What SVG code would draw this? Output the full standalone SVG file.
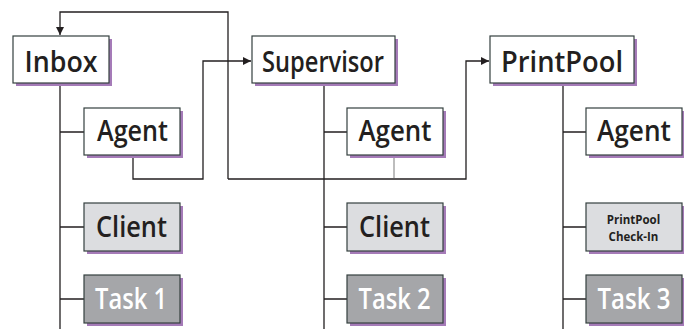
<svg xmlns="http://www.w3.org/2000/svg" width="684" height="329" viewBox="0 0 684 329">
<style>
.sh{fill:#a57bb8}
.bx{stroke:#34403f;stroke-width:1.2}
.w{fill:#ffffff}
.l{fill:#dcdde0}
.d{fill:#a5a6a9}
.t{font-family:"Open Sans","Liberation Sans",sans-serif;font-weight:600;font-size:28px;fill:#231f20;text-anchor:middle}
.tw{fill:#ffffff}
.s{font-size:11.5px;font-weight:700}
.c{fill:none;stroke:#231f20;stroke-width:1.3}
.g{fill:none;stroke:#9a9a9a;stroke-width:1.3}
</style>
<defs>
<marker id="ah" viewBox="0 0 8 8" refX="8" refY="4" markerWidth="8" markerHeight="8" markerUnits="userSpaceOnUse" orient="auto">
<path d="M0,0 L8,4 L0,8 z" fill="#231f20"/>
</marker>
</defs>
<g id="connectors">
<path class="c" d="M60,83 V329 M60,132 H84 M60,227 H84 M60,299 H84"/>
<path class="c" d="M324,83 V329 M324,132 H347 M324,227 H347 M324,299 H347"/>
<path class="c" d="M563,83 V329 M563,132 H586 M563,227 H586 M563,299 H586"/>
<path class="c" d="M133,155 V179 H203 V61 H251" marker-end="url(#ah)"/>
<path class="c" d="M228,179 V12 H60 V35" marker-end="url(#ah)"/>
<path class="c" d="M228,179 H466 V61 H489" marker-end="url(#ah)"/>
<path class="g" d="M394,155 V178"/>
</g>
<g id="inbox"><rect class="sh" x="16" y="39" width="96" height="47"/><rect class="bx w" x="13" y="36" width="96" height="47"/><text class="t" x="61" y="72" textLength="73" lengthAdjust="spacingAndGlyphs">Inbox</text></g>
<g id="inbox-agent"><rect class="sh" x="87" y="111" width="96" height="47"/><rect class="bx w" x="84" y="108" width="96" height="47"/><text class="t" x="132.5" y="141" textLength="71" lengthAdjust="spacingAndGlyphs">Agent</text></g>
<g id="inbox-client"><rect class="sh" x="87" y="206" width="96" height="48"/><rect class="bx l" x="84" y="203" width="96" height="48"/><text class="t" x="131.5" y="237" textLength="71" lengthAdjust="spacingAndGlyphs">Client</text></g>
<g id="task1"><rect class="sh" x="87" y="278" width="96" height="48"/><rect class="bx d" x="84" y="275" width="96" height="48"/><text class="t tw" x="131" y="309" textLength="72" lengthAdjust="spacingAndGlyphs">Task 1</text></g>
<g id="supervisor"><rect class="sh" x="255" y="39" width="143" height="47"/><rect class="bx w" x="252" y="36" width="143" height="47"/><text class="t" x="323" y="72" textLength="122" lengthAdjust="spacingAndGlyphs">Supervisor</text></g>
<g id="supervisor-agent"><rect class="sh" x="350" y="111" width="96" height="47"/><rect class="bx w" x="347" y="108" width="96" height="47"/><text class="t" x="395" y="141" textLength="73" lengthAdjust="spacingAndGlyphs">Agent</text></g>
<g id="supervisor-client"><rect class="sh" x="350" y="206" width="96" height="48"/><rect class="bx l" x="347" y="203" width="96" height="48"/><text class="t" x="394.5" y="237" textLength="71" lengthAdjust="spacingAndGlyphs">Client</text></g>
<g id="task2"><rect class="sh" x="350" y="278" width="96" height="48"/><rect class="bx d" x="347" y="275" width="96" height="48"/><text class="t tw" x="394.5" y="309" textLength="72" lengthAdjust="spacingAndGlyphs">Task 2</text></g>
<g id="printpool"><rect class="sh" x="493" y="39" width="144" height="47"/><rect class="bx w" x="490" y="36" width="144" height="47"/><text class="t" x="562" y="72" textLength="122" lengthAdjust="spacingAndGlyphs">PrintPool</text></g>
<g id="printpool-agent"><rect class="sh" x="589" y="111" width="96" height="47"/><rect class="bx w" x="586" y="108" width="96" height="47"/><text class="t" x="634" y="141" textLength="74" lengthAdjust="spacingAndGlyphs">Agent</text></g>
<g id="checkin"><rect class="sh" x="589" y="206" width="96" height="48"/><rect class="bx l" x="586" y="203" width="96" height="48"/><text class="t s" x="633.5" y="224">PrintPool</text><text class="t s" x="633.5" y="241">Check-In</text></g>
<g id="task3"><rect class="sh" x="589" y="278" width="96" height="48"/><rect class="bx d" x="586" y="275" width="96" height="48"/><text class="t tw" x="634" y="309" textLength="73" lengthAdjust="spacingAndGlyphs">Task 3</text></g>
</svg>
